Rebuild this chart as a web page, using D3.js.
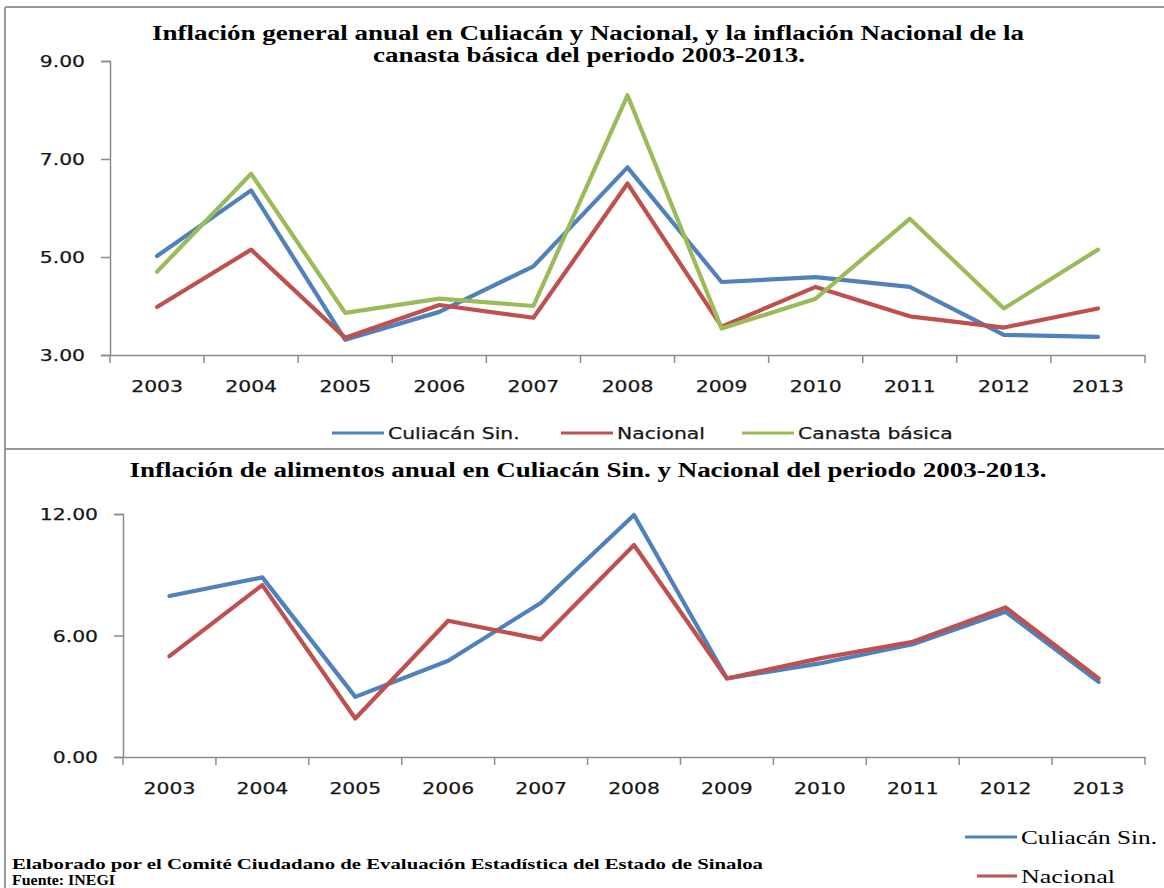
<!DOCTYPE html>
<html>
<head>
<meta charset="utf-8">
<script src="https://cdn.jsdelivr.net/npm/d3@7/dist/d3.min.js"></script>
<style>
  html, body { margin: 0; padding: 0; background: #fff; }
  svg { display: block; }
</style>
</head>
<body>
<svg></svg>
<script>
// data
const years = ["2003", "2004", "2005", "2006", "2007", "2008", "2009", "2010", "2011", "2012", "2013"]
const culiacanGeneral = [5.02, 6.36, 3.31, 3.88, 4.81, 6.83, 4.49, 4.59, 4.39, 3.41, 3.37]
const nacionalGeneral = [3.98, 5.15, 3.35, 4.02, 3.76, 6.50, 3.58, 4.39, 3.79, 3.56, 3.95]
const canastaBasica = [4.70, 6.70, 3.86, 4.15, 4.00, 8.30, 3.54, 4.15, 5.78, 3.95, 5.15]
const culiacanAlimentos = [7.95, 8.87, 2.97, 4.75, 7.62, 11.95, 3.88, 4.62, 5.57, 7.17, 3.71]
const nacionalAlimentos = [4.98, 8.49, 1.90, 6.73, 5.81, 10.47, 3.88, 4.87, 5.69, 7.39, 3.88]
const topTicks = [3, 5, 7, 9]
const bottomTicks = [0, 6, 12]

const w = 1164
const h = 888
const blue = "#4F81BD"
const red = "#C0504D"
const green = "#9BBB59"
const axisColor = "#8c8c8c"
const textColor = "#161616"
const sans = "DejaVu Sans, Verdana, sans-serif"
const serif = "Liberation Serif, Times New Roman, serif"
const k = 1.27 // the original is stretched sideways

const svg = d3.select("svg").attr("width", w).attr("height", h)

// stretch text sideways like the source picture
const stretch = (sel, factor) => {
    sel.each(function () {
        const len = this.getComputedTextLength()
        d3.select(this).attr("textLength", len * factor).attr("lengthAdjust", "spacingAndGlyphs")
    })
}

// frame
const frame = svg.append("g").attr("stroke", "#999").attr("stroke-width", 2).attr("fill", "none")
frame.append("line").attr("x1", 5).attr("x2", 5).attr("y1", 7).attr("y2", h)
frame.append("line").attr("x1", 5).attr("x2", w).attr("y1", 7).attr("y2", 7)
frame.append("line").attr("x1", 5).attr("x2", w).attr("y1", 449).attr("y2", 449)

const drawChart = (cfg) => {
    const g = svg.append("g")
    const x = d3.scaleBand().domain(years).range([cfg.left, cfg.right]).padding(0)
    const y = d3.scaleLinear().domain(cfg.domain).range([cfg.bottom, cfg.top])

    // y axis
    const yAxis = g.append("g")
        .attr("transform", `translate(${cfg.left},0)`)
        .call(d3.axisLeft(y).tickValues(cfg.ticks).tickFormat(d3.format(".2f")).tickSize(9).tickPadding(16))
    yAxis.select(".domain").attr("stroke", axisColor).attr("stroke-width", 1.5)
    yAxis.selectAll(".tick line").attr("stroke", axisColor).attr("stroke-width", 1.5)
    yAxis.selectAll(".tick text")
        .attr("font-family", sans).attr("font-size", 16).attr("fill", textColor)
        .attr("stroke", textColor).attr("stroke-width", 0.25)
        .attr("dy", "0.36em")
        .call(stretch, k)

    // x axis, labels at band centres
    const xAxis = g.append("g")
        .attr("transform", `translate(0,${cfg.bottom})`)
        .call(d3.axisBottom(x).tickSize(0).tickPadding(26))
    xAxis.select(".domain").attr("stroke", axisColor).attr("stroke-width", 1.5)
    xAxis.selectAll(".tick text")
        .attr("font-family", sans).attr("font-size", 16).attr("fill", textColor)
        .attr("stroke", textColor).attr("stroke-width", 0.25)
        .call(stretch, k)

    // tick marks between categories
    const bounds = years.map(d => x(d)).concat([x(years[years.length - 1]) + x.bandwidth()])
    g.selectAll(".bound")
        .data(bounds)
        .enter()
        .append("line")
        .attr("x1", d => d).attr("x2", d => d)
        .attr("y1", cfg.bottom).attr("y2", cfg.bottom + 8)
        .attr("stroke", axisColor).attr("stroke-width", 1.5)

    const line = d3.line()
        .x((d, i) => x(years[i]) + x.bandwidth() / 2)
        .y(d => y(d))

    cfg.series.forEach(s => {
        g.append("path")
            .attr("d", line(s.values))
            .attr("fill", "none")
            .attr("stroke", s.color)
            .attr("stroke-width", 4.2)
            .attr("stroke-linejoin", "round")
            .attr("stroke-linecap", "round")
    })
}

// top chart
drawChart({
    left: 110, right: 1145, top: 61, bottom: 355,
    domain: [3, 9], ticks: topTicks,
    series: [
        { values: culiacanGeneral, color: blue },
        { values: nacionalGeneral, color: red },
        { values: canastaBasica, color: green }
    ]
})

// bottom chart
drawChart({
    left: 123, right: 1145, top: 514, bottom: 757,
    domain: [0, 12], ticks: bottomTicks,
    series: [
        { values: culiacanAlimentos, color: blue },
        { values: nacionalAlimentos, color: red }
    ]
})

// titles
const title = (txt, cx, yy, len) => {
    svg.append("text")
        .attr("x", cx).attr("y", yy)
        .attr("text-anchor", "middle")
        .attr("font-family", serif).attr("font-weight", "bold").attr("font-size", 20)
        .attr("fill", "#000")
        .attr("textLength", len).attr("lengthAdjust", "spacingAndGlyphs")
        .text(txt)
}
title("Inflación general anual en Culiacán y Nacional, y la inflación Nacional de la", 588, 40, 872)
title("canasta básica del periodo 2003-2013.", 589, 62, 432)
title("Inflación de alimentos anual en Culiacán Sin. y Nacional del periodo 2003-2013.", 588, 477, 917)

// top legend
const topLegend = [
    { label: "Culiacán Sin.", color: blue, x: 332 },
    { label: "Nacional", color: red, x: 561 },
    { label: "Canasta básica", color: green, x: 742 }
]
const lg = svg.append("g")
topLegend.forEach(d => {
    lg.append("line").attr("x1", d.x).attr("x2", d.x + 52).attr("y1", 433).attr("y2", 433)
        .attr("stroke", d.color).attr("stroke-width", 3)
    lg.append("text").attr("x", d.x + 56).attr("y", 439)
        .attr("font-family", sans).attr("font-size", 16).attr("fill", textColor)
        .attr("stroke", textColor).attr("stroke-width", 0.25)
        .text(d.label)
        .call(stretch, k)
})

// bottom legend
const bottomLegend = [
    { label: "Culiacán Sin.", color: blue, x1: 965, y: 837, len: 136 },
    { label: "Nacional", color: red, x1: 977, y: 876, len: 94 }
]
bottomLegend.forEach(d => {
    svg.append("line").attr("x1", d.x1).attr("x2", 1017).attr("y1", d.y).attr("y2", d.y)
        .attr("stroke", d.color).attr("stroke-width", 3)
    svg.append("text").attr("x", 1021).attr("y", d.y + 7)
        .attr("font-family", serif).attr("font-size", 19).attr("fill", "#000")
        .attr("textLength", d.len).attr("lengthAdjust", "spacingAndGlyphs")
        .text(d.label)
})

// footer
svg.append("text").attr("x", 12).attr("y", 869)
    .attr("font-family", serif).attr("font-weight", "bold").attr("font-size", 15).attr("fill", "#000")
    .attr("textLength", 751).attr("lengthAdjust", "spacingAndGlyphs")
    .text("Elaborado por el Comité Ciudadano de Evaluación Estadística del Estado de Sinaloa")
svg.append("text").attr("x", 12).attr("y", 885)
    .attr("font-family", serif).attr("font-weight", "bold").attr("font-size", 15).attr("fill", "#000")
    .attr("textLength", 103).attr("lengthAdjust", "spacingAndGlyphs")
    .text("Fuente: INEGI")
</script>
</body>
</html>
